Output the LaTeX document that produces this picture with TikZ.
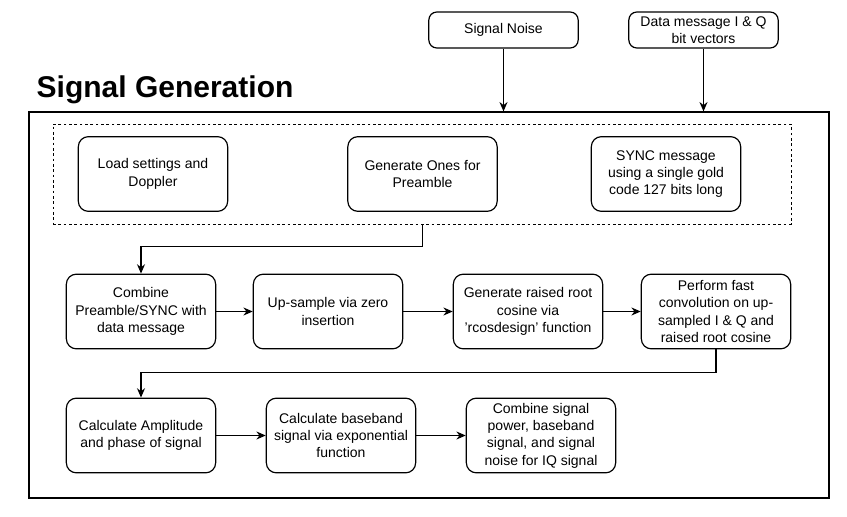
\documentclass[tikz,border=0pt]{standalone}
\usepackage{fontspec}
\setmainfont{Liberation Sans}
\usetikzlibrary{arrows.meta}
\begin{document}
\begin{tikzpicture}[x=0.75pt,y=-0.75pt,
  stepbox/.style={draw,line width=0.9pt,rounded corners=7.5pt,align=center,
    minimum width=112pt,minimum height=56pt,inner sep=1pt,font=\fontsize{10.5}{13}\selectfont},
  inbox/.style={draw,line width=0.9pt,rounded corners=6pt,align=center,
    minimum width=112pt,minimum height=27pt,inner sep=1pt,font=\fontsize{10.5}{12.5}\selectfont},
  arr/.style={-{Stealth[length=7pt,width=6pt]},line width=0.9pt}]
\useasboundingbox (0,0) rectangle (847,517);
\node[draw,line width=0.9pt,minimum width=600pt,minimum height=289.5pt,inner sep=0] (frame) at (429,305) {};
\node[anchor=west,font=\fontsize{22.5}{22.5}\selectfont\bfseries] (title) at (32,90) {Signal Generation};
\node[inbox] (noise) at (503.5,30) {Signal Noise};
\node[inbox] (data) at (703.5,30) {Data message I \& Q\\bit vectors};
\draw[arr] (noise.south) -- (noise.south |- frame.north);
\draw[arr] (data.south) -- (data.south |- frame.north);
\node[draw,dash pattern=on 2pt off 2pt,line width=0.7pt,minimum width=553.5pt,minimum height=75pt,inner sep=0] (pre) at (422,174) {};
\node[stepbox] (load) at (153,174) {Load settings and\\Doppler};
\node[stepbox] (ones) at (422.5,174) {Generate Ones for\\Preamble};
\node[stepbox] (sync) at (666,174) {SYNC message\\using a single gold\\code 127 bits long};
\node[stepbox] (combine) at (141,311.5) {Combine\\Preamble/SYNC with\\data message};
\node[stepbox] (upsample) at (328,311.5) {Up-sample via zero\\insertion};
\node[stepbox] (rcos) at (528,311.5) {Generate raised root\\cosine via\\'rcosdesign' function};
\node[stepbox] (conv) at (716,311.5) {Perform fast\\convolution on up-\\sampled I \& Q and\\raised root cosine};
\node[stepbox] (amp) at (141,435.5) {Calculate Amplitude\\and phase of signal};
\node[stepbox] (base) at (341,435.5) {Calculate baseband\\signal via exponential\\function};
\node[stepbox] (iq) at (541,435.5) {Combine signal\\power, baseband\\signal, and signal\\noise for IQ signal};
\draw[arr] (ones.south |- pre.south) -- ++(0,22) -| (combine.north);
\draw[arr] (combine) -- (upsample);
\draw[arr] (upsample) -- (rcos);
\draw[arr] (rcos) -- (conv);
\draw[arr] (conv.south) -- ++(0,23) -| (amp.north);
\draw[arr] (amp) -- (base);
\draw[arr] (base) -- (iq);
\end{tikzpicture}
\end{document}
